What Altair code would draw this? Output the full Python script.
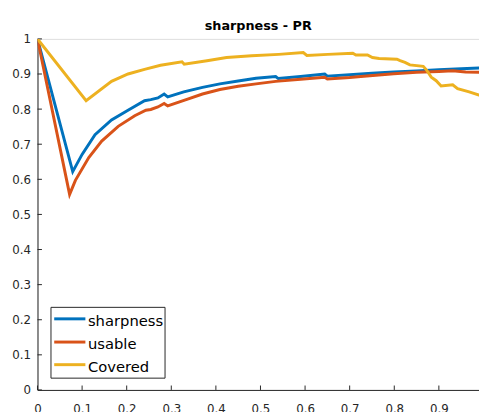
import altair as alt
import pandas as pd

# ---- data ----
series_names = ["sharpness", "usable", "Covered"]
series_colors = ["#0072BD", "#D95319", "#EDB120"]

sharp_x = [0, 0.079, 0.100, 0.129, 0.166, 0.203, 0.240, 0.254, 0.270, 0.284, 0.292,
           0.328, 0.370, 0.409, 0.450, 0.490, 0.534, 0.540, 0.590, 0.644, 0.650,
           0.700, 0.750, 0.799, 0.850, 0.900, 0.950, 1.0]
sharp_y = [1, 0.622, 0.671, 0.727, 0.769, 0.797, 0.824, 0.827, 0.832, 0.843, 0.835,
           0.849, 0.862, 0.872, 0.880, 0.888, 0.893, 0.887, 0.893, 0.900, 0.894,
           0.898, 0.902, 0.906, 0.909, 0.912, 0.915, 0.918]

usable_x = [0, 0.072, 0.085, 0.115, 0.144, 0.181, 0.218, 0.243, 0.254, 0.270, 0.284,
            0.292, 0.335, 0.370, 0.409, 0.450, 0.490, 0.534, 0.590, 0.644, 0.650,
            0.700, 0.725, 0.799, 0.850, 0.900, 0.931, 0.960, 1.0]
usable_y = [1, 0.557, 0.597, 0.662, 0.709, 0.751, 0.781, 0.797, 0.799, 0.806, 0.816,
            0.809, 0.828, 0.843, 0.856, 0.865, 0.872, 0.879, 0.885, 0.891, 0.886,
            0.890, 0.893, 0.901, 0.905, 0.907, 0.909, 0.906, 0.905]

covered_x = [0, 0.109, 0.166, 0.203, 0.240, 0.276, 0.324, 0.329, 0.380, 0.424, 0.480,
             0.541, 0.596, 0.604, 0.651, 0.707, 0.714, 0.740, 0.751, 0.766, 0.806,
             0.813, 0.824, 0.835, 0.865, 0.872, 0.883, 0.894, 0.905, 0.931, 0.942,
             0.968, 0.99, 1.0]
covered_y = [1, 0.824, 0.879, 0.900, 0.913, 0.925, 0.935, 0.928, 0.938, 0.947, 0.952,
             0.956, 0.961, 0.953, 0.956, 0.959, 0.954, 0.954, 0.947, 0.944, 0.942,
             0.938, 0.933, 0.926, 0.922, 0.912, 0.891, 0.881, 0.866, 0.869, 0.858,
             0.849, 0.840, 0.836]

x_ticks = [0, 0.1, 0.2, 0.3, 0.4, 0.5, 0.6, 0.7, 0.8, 0.9]
y_ticks = [0, 0.1, 0.2, 0.3, 0.4, 0.5, 0.6, 0.7, 0.8, 0.9, 1.0]

rows = []
for name, xs_, ys_ in [("sharpness", sharp_x, sharp_y),
                       ("usable", usable_x, usable_y),
                       ("Covered", covered_x, covered_y)]:
    for i, (a, b) in enumerate(zip(xs_, ys_)):
        rows.append({"series": name, "x": a, "y": b, "i": i})
df = pd.DataFrame(rows)

AX = "#262626"
FONT = "DejaVu Sans"
W, H = 449, 357

xs = alt.Scale(domain=[0, 0.99], nice=False, zero=False)
ys = alt.Scale(domain=[0, 1], nice=False, zero=False)

x_axis = alt.Axis(values=x_ticks, format=".1~f", ticks=False, grid=False, title=None,
                  domainColor=AX, labelColor=AX, labelFont=FONT, labelFontSize=12,
                  labelPadding=14, labelFlush=False)
y_axis = alt.Axis(values=y_ticks, format=".1~f", ticks=False, grid=False, title=None,
                  domainColor=AX, labelColor=AX, labelFont=FONT, labelFontSize=12,
                  labelPadding=7, labelFlush=False)

color_scale = alt.Scale(domain=series_names, range=series_colors)

lines = alt.Chart(df).mark_line(strokeWidth=3, clip=True).encode(
    x=alt.X("x:Q", scale=xs, axis=x_axis),
    y=alt.Y("y:Q", scale=ys, axis=y_axis),
    color=alt.Color("series:N", scale=color_scale, sort=series_names, legend=None),
    order=alt.Order("i:Q"),
)

xt = alt.Chart(pd.DataFrame({"v": x_ticks})).mark_rule(color=AX, strokeWidth=1).encode(
    x=alt.X("v:Q", scale=xs, axis=x_axis),
    y=alt.value(H), y2=alt.value(H - 4.5),
)
yt = alt.Chart(pd.DataFrame({"v": y_ticks})).mark_rule(color=AX, strokeWidth=1).encode(
    y=alt.Y("v:Q", scale=ys, axis=y_axis),
    x=alt.value(0), x2=alt.value(4.5),
)

# ---- hand-built legend box (MATLAB style) ----
LX0, LX1, LY0, LY1 = 13.7, 129.7, 273, 345
ROW_Y = [284.7, 308.3, 331.3]
legend_layers = [
    alt.Chart(pd.DataFrame({"k": [0]})).mark_rect(
        fill="white", stroke=AX, strokeWidth=1).encode(
        x=alt.value(LX0), x2=alt.value(LX1), y=alt.value(LY0), y2=alt.value(LY1))
]
for k, name in enumerate(series_names):
    one = pd.DataFrame({"series": [name]})
    legend_layers.append(
        alt.Chart(one).mark_rule(strokeWidth=3, color=series_colors[k]).encode(
            x=alt.value(17), x2=alt.value(48.7), y=alt.value(ROW_Y[k]))
    )
    legend_layers.append(
        alt.Chart(one).mark_text(font=FONT, fontSize=15, color="black", align="left",
                                 baseline="middle", dy=2).encode(
            x=alt.value(51.3), y=alt.value(ROW_Y[k]), text="series:N")
    )

chart = alt.layer(xt, yt, lines, *legend_layers).properties(
    width=W, height=H,
    title=alt.Title("sharpness - PR", font=FONT, fontSize=13, fontWeight="bold",
                    color="black", anchor="middle", offset=0),
    autosize=alt.AutoSizeParams(type="none"),
    padding={"left": 30, "top": 28, "right": 0, "bottom": 19},
).configure_view(stroke=None).configure(background="white")

chart.save("out.html", embed_options={"renderer": "svg", "actions": False})
